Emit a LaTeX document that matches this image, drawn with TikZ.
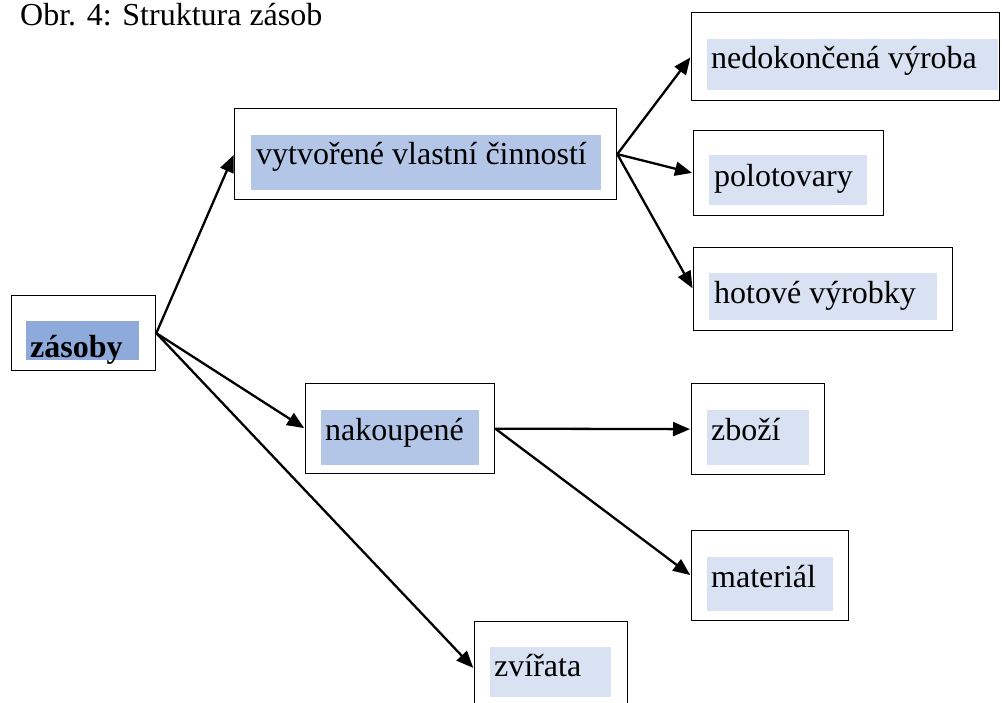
\documentclass[tikz,border=0pt]{standalone}
\usepackage{fontspec}
\setmainfont{Liberation Serif}
\usetikzlibrary{arrows.meta}
\definecolor{hldark}{HTML}{8EAADB}
\definecolor{hlmid}{HTML}{B4C6E7}
\definecolor{hllight}{HTML}{D9E2F3}
\tikzset{
  box/.style={draw=black, line width=1.3pt, fill=white, anchor=north west, inner sep=0pt, minimum width=#1},
  hl/.style={fill=#1, draw=none, anchor=north west, inner sep=0pt},
  txt/.style={anchor=base west, inner sep=0pt, font=\fontsize{32}{38}\selectfont},
  arr/.style={line width=2.3pt, -{Triangle[length=17pt,width=14pt]}, shorten >=1pt}
}
\begin{document}
\begin{tikzpicture}[x=1pt,y=-1pt]
\useasboundingbox (0,0) rectangle (1002,702);
\clip (0,0) rectangle (1002,702);
\fill[white] (0,0) rectangle (1002,702);

\node[txt] (title) at (20,25) {Obr. 4: Struktura zásob};

% outer boxes
\node[box=144pt, minimum height=75pt] (zas) at (11,295) {};
\node[box=382pt, minimum height=91pt] (vyt) at (234,108) {};
\node[box=308pt, minimum height=88pt] (ned) at (691,12) {};
\node[box=190pt, minimum height=85pt] (pol) at (693,130) {};
\node[box=259pt, minimum height=83pt] (hot) at (693,247) {};
\node[box=189pt, minimum height=90pt] (nak) at (305,383) {};
\node[box=133pt, minimum height=91pt] (zbo) at (691,383) {};
\node[box=157pt, minimum height=90pt] (mat) at (691,530) {};
\node[box=153pt, minimum height=94pt] (zvi) at (474,621) {};

% highlights
\node[hl=hldark, minimum width=113pt, minimum height=39pt] (zash) at (26,321) {};
\node[hl=hlmid, minimum width=350pt, minimum height=55pt] (vyth) at (251,135) {};
\node[hl=hllight, minimum width=291pt, minimum height=51pt] (nedh) at (707,39) {};
\node[hl=hllight, minimum width=158pt, minimum height=50pt] (polh) at (709,155) {};
\node[hl=hllight, minimum width=228pt, minimum height=47pt] (hoth) at (709,273) {};
\node[hl=hlmid, minimum width=158pt, minimum height=55pt] (nakh) at (321,410) {};
\node[hl=hllight, minimum width=102pt, minimum height=55pt] (zboh) at (707,410) {};
\node[hl=hllight, minimum width=126pt, minimum height=54pt] (math) at (707,557) {};
\node[hl=hllight, minimum width=121pt, minimum height=50pt] (zvih) at (490,647) {};

% texts
\node[txt, font=\fontsize{32}{38}\selectfont\bfseries] (zast) at (30,357) {zásoby};
\node[txt] (vytt) at (256,164) {vytvořené vlastní činností};
\node[txt] (nedt) at (711,68) {nedokončená výroba};
\node[txt] (polt) at (714,186) {polotovary};
\node[txt] (hott) at (714,303) {hotové výrobky};
\node[txt] (nakt) at (325,440) {nakoupené};
\node[txt] (zbot) at (711,440) {zboží};
\node[txt] (matt) at (711,587) {materiál};
\node[txt] (zvit) at (494,676) {zvířata};

% connectors
\draw[arr] (zas.east) -- (vyt.west);
\draw[arr] (zas.east) -- (nak.west);
\draw[arr] (zas.east) -- (zvi.west);
\draw[arr] (vyt.east) -- (ned.west);
\draw[arr] (vyt.east) -- (pol.west);
\draw[arr] (vyt.east) -- (hot.west);
\draw[arr] (nak.east) -- (zbo.west);
\draw[arr] (nak.east) -- (mat.west);
\end{tikzpicture}
\end{document}
